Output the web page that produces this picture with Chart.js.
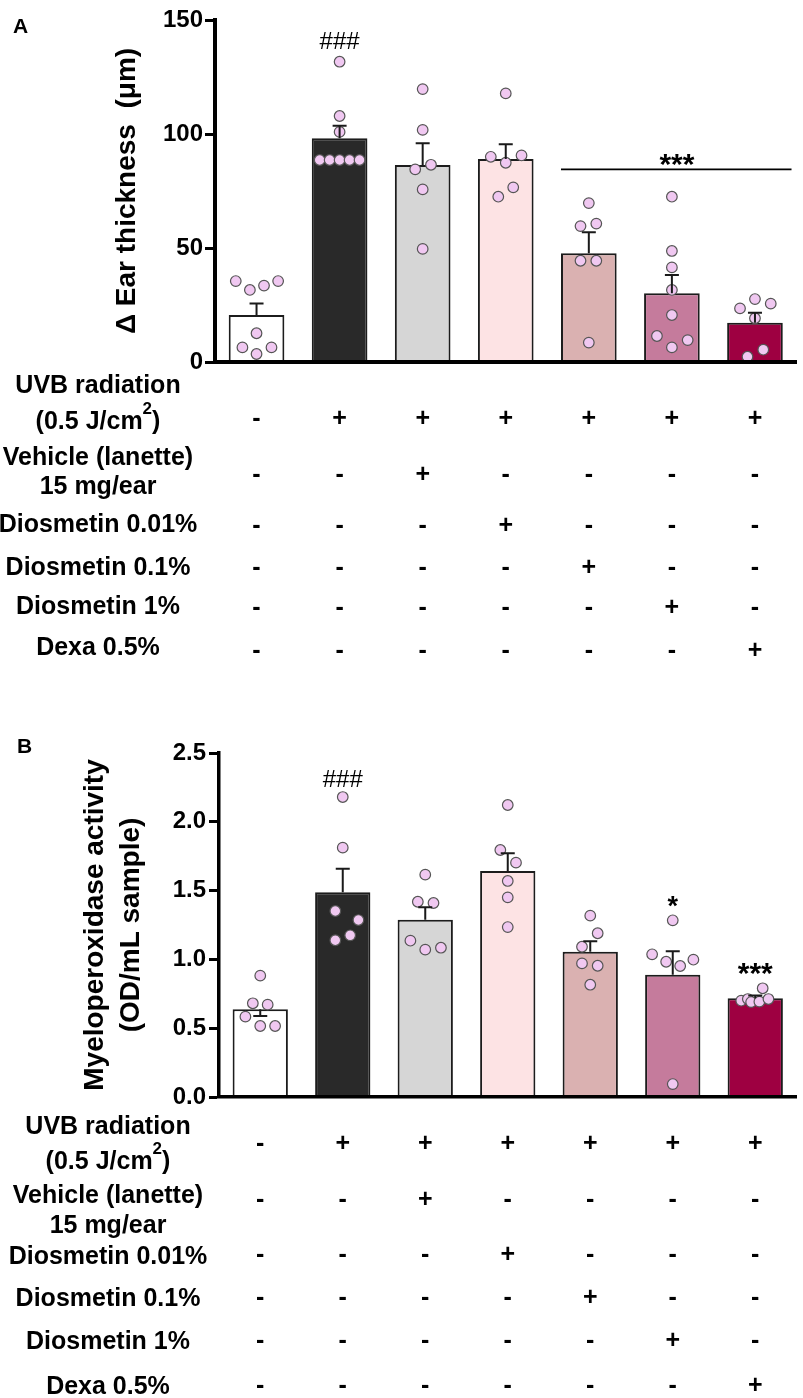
<!DOCTYPE html>
<html>
<head>
<meta charset="utf-8">
<script src="https://cdn.jsdelivr.net/npm/chart.js@4.4.1/dist/chart.umd.min.js"></script>
<style>
html,body{margin:0;padding:0;background:#fff;}
#wrap{position:relative;width:803px;height:1398px;overflow:hidden;}
#wrap canvas{position:absolute;left:0;}
</style>
</head>
<body>
<div id="wrap">
  <canvas id="chartA" width="803" height="700" style="top:0px"></canvas>
  <canvas id="chartB" width="803" height="698" style="top:700px"></canvas>
</div>
<script>
// ---------------- DATA ----------------
const groups = ['Sham', 'UVB', 'Vehicle', 'Diosmetin 0.01%', 'Diosmetin 0.1%', 'Diosmetin 1%', 'Dexa 0.5%'];
const barColors = ['#ffffff', '#292929', '#d6d6d6', '#fde3e4', '#dab1b1', '#c57b9c', '#9e0041'];

// Panel A – Δ ear thickness (µm)
const earMean = [20.6, 98.1, 86.4, 89.0, 47.7, 30.1, 17.2];
const earSem  = [5.1, 5.5, 9.5, 6.5, 9.2, 8.1, 4.4];
const earPoints = [
  [35.5, 31.6, 33.5, 35.5, 12.6, 6.4, 6.4, 3.5],
  [131.7, 107.9, 100.9, 88.6, 88.6, 88.6, 88.6, 88.6],
  [119.7, 101.8, 84.5, 86.5, 75.7, 49.6],
  [117.8, 90.0, 90.6, 87.4, 76.6, 72.5],
  [69.7, 59.6, 60.7, 44.4, 44.4, 8.5],
  [72.5, 48.7, 41.5, 31.6, 20.6, 11.4, 6.4, 9.6],
  [23.5, 27.6, 25.6, 19.2, 2.3, 5.4]
];
const earJitter = [
  [-0.25, -0.08, 0.09, 0.26, 0, -0.17, 0.18, 0],
  [0, 0, 0, -0.24, -0.12, 0, 0.12, 0.24],
  [0, 0, -0.09, 0.1, 0, 0],
  [0, -0.18, 0.19, 0, 0.09, -0.09],
  [0, -0.1, 0.09, -0.1, 0.09, 0],
  [0, 0, 0, 0, 0, -0.18, 0, 0.19],
  [-0.18, 0, 0.19, 0, -0.09, 0.1]
];
const earTicks = [0, 50, 100, 150];
const earHash = { text: '###', group: 1, value: 141 };
const earBracket = { text: '***', from: 4, to: 6, value: 84.5, textValue: 89.9 };

// Panel B – Myeloperoxidase activity (OD/mL sample)
const mpoMean = [0.637, 1.488, 1.289, 1.642, 1.056, 0.889, 0.717];
const mpoSem  = [-0.048, 0.17, 0.09, 0.13, 0.075, 0.17, 0.02]; // first error bar is drawn downward in the figure
const mpoPoints = [
  [0.882, 0.681, 0.671, 0.584, 0.516, 0.516],
  [2.18, 1.812, 1.352, 1.286, 1.175, 1.139],
  [1.616, 1.419, 1.41, 1.136, 1.071, 1.085],
  [2.122, 1.795, 1.703, 1.57, 1.451, 1.235],
  [1.318, 1.19, 1.092, 0.971, 0.954, 0.816],
  [1.284, 1.037, 0.983, 0.952, 0.998, 0.094],
  [0.79, 0.70, 0.712, 0.69, 0.693, 0.712]
];
const mpoJitter = [
  [0, -0.09, 0.09, -0.18, 0, 0.18],
  [0, 0, -0.09, 0.19, 0.09, -0.09],
  [0, -0.09, 0.1, -0.18, 0, 0.19],
  [0, -0.09, 0.1, 0, 0, 0],
  [0, 0.09, -0.1, -0.1, 0.09, 0],
  [0, -0.25, -0.08, 0.09, 0.25, 0],
  [0.09, -0.17, -0.09, -0.05, 0.05, 0.16]
];
const mpoTicks = [0, 0.5, 1.0, 1.5, 2.0, 2.5];
const mpoMarks = [
  { text: '###', group: 1, value: 2.311 },
  { text: '*',   group: 5, value: 1.439 },
  { text: '***', group: 6, value: 0.954 }
];

// Treatment table
const rowLabels = [
  ['UVB radiation', '(0.5 J/cm²)'],
  ['Vehicle (lanette)', '15 mg/ear'],
  ['Diosmetin 0.01%'],
  ['Diosmetin 0.1%'],
  ['Diosmetin 1%'],
  ['Dexa 0.5%']
];
const treatmentSigns = [
  ['-', '+', '+', '+', '+', '+', '+'],
  ['-', '-', '+', '-', '-', '-', '-'],
  ['-', '-', '-', '+', '-', '-', '-'],
  ['-', '-', '-', '-', '+', '-', '-'],
  ['-', '-', '-', '-', '-', '+', '-'],
  ['-', '-', '-', '-', '-', '-', '+']
];

// ---------------- RENDERING ----------------
const FONT = "'Liberation Sans', Arial, Helvetica, sans-serif";
Chart.defaults.font.family = FONT;
Chart.defaults.color = '#000';
const DOT_FILL = '#f0c8f1';

function dotData(points, jitter) {
  const out = [];
  points.forEach((arr, i) => arr.forEach((v, k) => out.push({ x: i + jitter[i][k], y: v })));
  return out;
}

function drawLabel(ctx, txt, cx, cy, fs) {
  const base = cy + 0.358 * fs;
  ctx.textAlign = 'left';
  ctx.textBaseline = 'alphabetic';
  if (txt.indexOf('²') >= 0) {
    const parts = txt.split('²');
    const supFs = Math.round(fs * 0.66);
    ctx.font = `bold ${fs}px ${FONT}`;
    const w1 = ctx.measureText(parts[0]).width;
    const w3 = ctx.measureText(parts[1]).width;
    ctx.font = `bold ${supFs}px ${FONT}`;
    const w2 = ctx.measureText('2').width;
    let x = cx - (w1 + w2 + w3) / 2;
    ctx.font = `bold ${fs}px ${FONT}`;
    ctx.fillText(parts[0], x, base); x += w1;
    ctx.font = `bold ${supFs}px ${FONT}`;
    ctx.fillText('2', x, base - 0.6 * fs); x += w2;
    ctx.font = `bold ${fs}px ${FONT}`;
    ctx.fillText(parts[1], x, base);
  } else {
    ctx.font = `bold ${fs}px ${FONT}`;
    ctx.textAlign = 'center';
    ctx.fillText(txt, cx, base);
  }
}

function drawMark(ctx, text, x, yCenter) {
  const star = text.indexOf('*') >= 0;
  const fs = star ? (text.length === 1 ? 27 : 30) : 24;
  ctx.font = `${star ? 'bold' : 'normal'} ${fs}px ${FONT}`;
  ctx.textAlign = 'center';
  ctx.textBaseline = 'alphabetic';
  ctx.fillText(text, x, yCenter + (star ? 0.58 : 0.345) * fs);
}

function makeExtras(cfg) {
  return {
    id: 'extras_' + cfg.id,
    afterDatasetsDraw(chart) {
      const ctx = chart.ctx, xs = chart.scales.x, ys = chart.scales.y;
      ctx.save();
      ctx.strokeStyle = '#1a1a1a';
      ctx.lineWidth = 2;
      cfg.means.forEach((m, i) => {
        const x = xs.getPixelForValue(i);
        const y0 = ys.getPixelForValue(m);
        const y1 = ys.getPixelForValue(m + cfg.sems[i]);
        ctx.beginPath();
        ctx.moveTo(x, y0); ctx.lineTo(x, y1);
        ctx.moveTo(x - 7, y1); ctx.lineTo(x + 7, y1);
        ctx.stroke();
      });
      ctx.restore();
    },
    afterDraw(chart) {
      const ctx = chart.ctx, xs = chart.scales.x, ys = chart.scales.y;
      const step = xs.getPixelForValue(1) - xs.getPixelForValue(0);
      ctx.save();
      ctx.fillStyle = '#000';
      ctx.strokeStyle = '#000';
      // panel letter
      ctx.font = `bold 21px ${FONT}`;
      ctx.textAlign = 'left';
      ctx.textBaseline = 'alphabetic';
      ctx.fillText(cfg.letter, cfg.letterPos[0], cfg.letterPos[1]);
      // significance marks
      cfg.marks.forEach(mk => drawMark(ctx, mk.text, xs.getPixelForValue(mk.group), ys.getPixelForValue(mk.value)));
      if (cfg.bracket) {
        const b = cfg.bracket;
        const yl = ys.getPixelForValue(b.value);
        ctx.lineWidth = 1.6;
        ctx.beginPath();
        ctx.moveTo(xs.getPixelForValue(b.from) - 0.335 * step, yl);
        ctx.lineTo(xs.getPixelForValue(b.to) + 0.44 * step, yl);
        ctx.stroke();
        const xm = (xs.getPixelForValue(b.from) + xs.getPixelForValue(b.to)) / 2 + 5;
        drawMark(ctx, b.text, xm, ys.getPixelForValue(b.textValue));
      }
      // treatment table
      ctx.fillStyle = '#000';
      rowLabels.forEach((lines, r) => {
        lines.forEach((txt, k) => drawLabel(ctx, txt, cfg.labelX, cfg.labelY[r][k], 25));
        ctx.font = `bold 25px ${FONT}`;
        ctx.textAlign = 'center';
        ctx.textBaseline = 'alphabetic';
        treatmentSigns[r].forEach((s, i) => {
          ctx.fillText(s, xs.getPixelForValue(i), cfg.signY[r] + 0.33 * 25);
        });
      });
      ctx.restore();
    }
  };
}

function makeChart(canvasId, cfg) {
  return new Chart(document.getElementById(canvasId), {
    type: 'bar',
    data: {
      labels: groups,
      datasets: [
        {
          type: 'scatter',
          data: dotData(cfg.points, cfg.jitter),
          xAxisID: 'xd', yAxisID: 'y', order: 0,
          pointRadius: 5.3, pointHoverRadius: 5.3,
          backgroundColor: DOT_FILL, borderColor: '#555', borderWidth: 1.2,
          clip: false
        },
        {
          type: 'bar',
          data: cfg.means,
          xAxisID: 'x', yAxisID: 'y', order: 1,
          grouped: false,
          backgroundColor: barColors, borderColor: '#1c1c1c', borderWidth: 2,
          barPercentage: 0.67, categoryPercentage: 1
        }
      ]
    },
    options: {
      responsive: false,
      animation: false,
      events: [],
      layout: { padding: cfg.padding },
      plugins: { legend: { display: false }, tooltip: { enabled: false } },
      scales: {
        x: {
          type: 'category', position: 'bottom', offset: true,
          ticks: { display: false },
          grid: { display: false },
          border: { display: true, color: '#000', width: cfg.axisWidth, z: 1 },
          afterFit: s => { s.height = cfg.xHeight; }
        },
        xd: {
          type: 'linear', position: 'bottom', display: true,
          min: -0.5, max: 6.5, offset: false,
          ticks: { display: false },
          grid: { display: false, drawTicks: false },
          border: { display: false },
          afterFit: s => { s.height = 0; }
        },
        y: {
          min: 0, max: cfg.ticks[cfg.ticks.length - 1],
          afterBuildTicks: s => { s.ticks = cfg.ticks.map(v => ({ value: v })); },
          ticks: {
            font: { size: 24, weight: 'bold' }, color: '#000',
            padding: cfg.tickPad,
            callback: cfg.fmt
          },
          grid: { display: true, drawOnChartArea: false, drawTicks: true, tickLength: 10, tickWidth: 3, tickColor: '#000' },
          border: { display: true, color: '#000', width: cfg.axisWidth, z: 1 },
          title: {
            display: true, text: cfg.title, color: '#000',
            font: { size: 28, weight: 'bold', lineHeight: cfg.titleLH },
            padding: { top: cfg.titlePad, bottom: 0 }
          },
          afterFit: s => { s.width = cfg.yWidth; }
        }
      }
    },
    plugins: [makeExtras(cfg)]
  });
}

makeChart('chartA', {
  id: 'A', letter: 'A', letterPos: [13, 33],
  means: earMean, sems: earSem, points: earPoints, jitter: earJitter, ticks: earTicks,
  fmt: v => String(v),
  marks: [earHash], bracket: earBracket,
  padding: { top: 20, left: 0, right: 0, bottom: 0 },
  xHeight: 338, yWidth: 215, axisWidth: 4, tickPad: 2,
  title: 'Δ Ear thickness  (μm)', titleLH: 1.2, titlePad: 110,
  labelX: 98,
  labelY: [[384, 420], [456, 485], [523], [566], [605], [646]],
  signY: [418, 474, 525, 567, 607, 650]
});

makeChart('chartB', {
  id: 'B', letter: 'B', letterPos: [17, 53],
  means: mpoMean, sems: mpoSem, points: mpoPoints, jitter: mpoJitter, ticks: mpoTicks,
  fmt: v => Number(v).toFixed(1),
  marks: mpoMarks, bracket: null,
  padding: { top: 53, left: 0, right: 2, bottom: 0 },
  xHeight: 301, yWidth: 219, axisWidth: 3.5, tickPad: 3,
  title: ['Myeloperoxidase activity', '(OD/mL sample)'], titleLH: 1.29, titlePad: 77,
  labelX: 108,
  labelY: [[425, 460], [494, 524], [555], [597], [640], [685]],
  signY: [443, 499, 554, 597, 640, 685]
});
</script>
</body>
</html>
